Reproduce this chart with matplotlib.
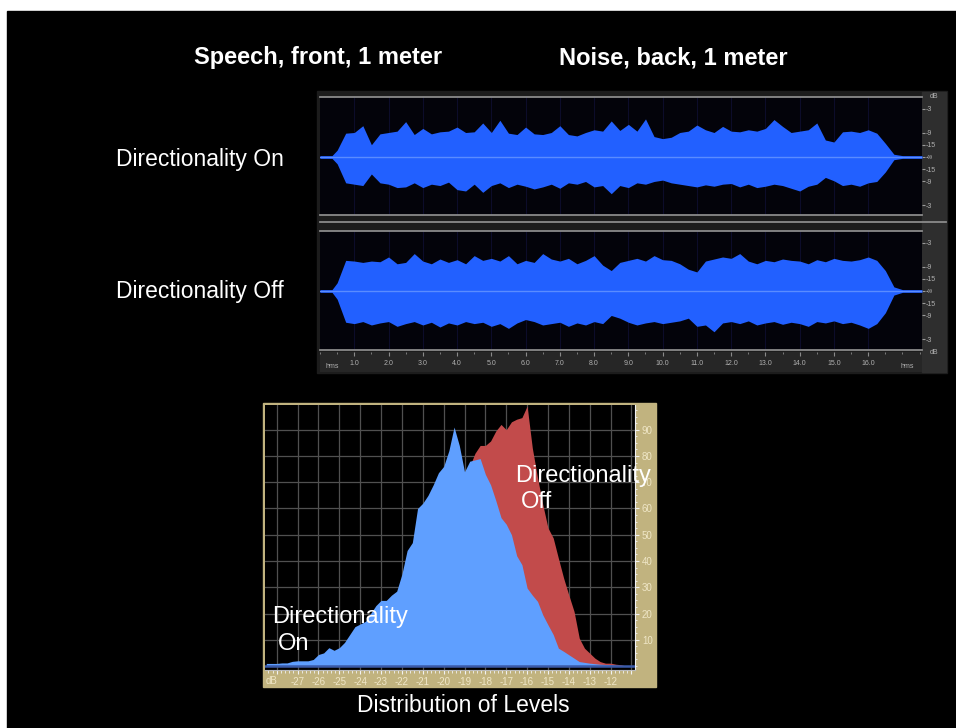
import numpy as np
import matplotlib
matplotlib.use("Agg")
import matplotlib.pyplot as plt
from matplotlib.patches import Rectangle
from matplotlib.ticker import MultipleLocator

plt.rcParams['font.family'] = ['Liberation Sans', 'DejaVu Sans']

W, H = 956, 728

# ---- waveform envelopes (amplitude, 0..1 of full scale), every 0.25 s from 0.5 s to 16.75 s
wave_t = [0.0, 0.35] + list(np.arange(0.5, 16.76, 0.25)) + [17.0, 17.57]
on_upper = [0.10, 0.35, 0.36, 0.46, 0.18, 0.34, 0.36, 0.38, 0.52, 0.33,
            0.42, 0.34, 0.37, 0.38, 0.44, 0.36, 0.37, 0.50, 0.36, 0.54,
            0.35, 0.33, 0.44, 0.34, 0.33, 0.36, 0.46, 0.33, 0.31, 0.36,
            0.40, 0.38, 0.53, 0.39, 0.48, 0.38, 0.56, 0.30, 0.27, 0.29,
            0.36, 0.38, 0.47, 0.40, 0.36, 0.45, 0.38, 0.37, 0.40, 0.38,
            0.42, 0.55, 0.45, 0.36, 0.38, 0.40, 0.50, 0.25, 0.22, 0.37,
            0.38, 0.36, 0.40, 0.35, 0.20, 0.04]
on_lower = [0.10, 0.38, 0.40, 0.42, 0.25, 0.38, 0.40, 0.45, 0.44, 0.38,
            0.45, 0.40, 0.42, 0.37, 0.48, 0.50, 0.40, 0.52, 0.42, 0.38,
            0.45, 0.40, 0.43, 0.47, 0.44, 0.40, 0.46, 0.38, 0.40, 0.36,
            0.44, 0.42, 0.54, 0.42, 0.45, 0.38, 0.40, 0.36, 0.34, 0.38,
            0.40, 0.42, 0.44, 0.41, 0.43, 0.40, 0.39, 0.44, 0.40, 0.45,
            0.43, 0.40, 0.42, 0.46, 0.50, 0.43, 0.40, 0.30, 0.35, 0.42,
            0.40, 0.43, 0.38, 0.36, 0.22, 0.04]
off_upper = [0.12, 0.45, 0.44, 0.42, 0.44, 0.43, 0.50, 0.40, 0.42, 0.55,
             0.44, 0.40, 0.47, 0.42, 0.46, 0.40, 0.52, 0.45, 0.48, 0.44,
             0.52, 0.40, 0.45, 0.42, 0.55, 0.47, 0.44, 0.48, 0.40, 0.45,
             0.52, 0.38, 0.30, 0.42, 0.45, 0.48, 0.44, 0.52, 0.46, 0.45,
             0.40, 0.32, 0.28, 0.44, 0.47, 0.50, 0.48, 0.55, 0.44, 0.40,
             0.45, 0.43, 0.47, 0.45, 0.44, 0.40, 0.46, 0.43, 0.48, 0.45,
             0.44, 0.46, 0.50, 0.45, 0.30, 0.06]
off_lower = [0.12, 0.46, 0.48, 0.45, 0.50, 0.47, 0.45, 0.52, 0.48, 0.45,
             0.50, 0.46, 0.53, 0.47, 0.50, 0.45, 0.48, 0.46, 0.52, 0.48,
             0.55, 0.47, 0.42, 0.45, 0.50, 0.48, 0.46, 0.52, 0.47, 0.50,
             0.45, 0.48, 0.36, 0.40, 0.46, 0.50, 0.47, 0.45, 0.48, 0.46,
             0.44, 0.40, 0.52, 0.50, 0.60, 0.47, 0.45, 0.48, 0.44, 0.50,
             0.47, 0.45, 0.49, 0.46, 0.48, 0.52, 0.45, 0.47, 0.44, 0.48,
             0.46, 0.50, 0.55, 0.48, 0.32, 0.06]
edge = [0.02, 0.02]

db_ticks = [0.708, 0.355, 0.178, 0.0, -0.178, -0.355, -0.708]
db_labels = ['-3', '-9', '-15', '-\u221e', '-15', '-9', '-3']
time_ticks = list(range(1, 17))
time_labels = ['%d.0' % s for s in time_ticks]

# ---- level histograms, every 0.25 dB
on_db = np.arange(-28.5, -11.49, 0.25)
on_counts = [1, 1, 1, 1.2, 1.2, 1.8, 2,
             2, 2, 2.5, 4.4, 5, 7, 6, 7, 9, 12, 15, 16,
             17, 20, 23, 25, 25, 27, 28.5, 35, 44, 47, 60, 62,
             65, 69, 73.6, 76, 82, 91, 84, 74, 78, 78.5, 79, 73,
             69, 63, 56.5, 54, 50, 42, 38.6, 29.7, 27, 24.6, 19.5, 15.7,
             12, 6.8, 5.6, 4.3, 3, 1.7, 1.4, 1.1, 0.9, 0.7, 0.6, 0.5,
             0.3, 0.2]
off_db = np.arange(-18.75, -11.24, 0.25)
off_counts = [76, 81, 84, 84, 85.7, 89.5, 92, 90, 93, 94, 94.6, 99,
              83, 71.7, 61.5, 52.6, 48.8, 41, 33.5, 27, 20.8, 10.6, 6.8, 4.9,
              3, 1.7, 1.1, 1.1, 0.7, 0.5, 0]
hist_db_ticks = list(range(-28, -10))
hist_db_labels = ['' if d in (-28, -11) else str(d) for d in hist_db_ticks]
count_ticks = [10, 20, 30, 40, 50, 60, 70, 80, 90]


def box(x0, y0, x1, y1):
    return [x0 / W, 1 - y1 / H, (x1 - x0) / W, (y1 - y0) / H]


def rect(x0, y0, x1, y1, color):
    fig.patches.append(Rectangle((x0 / W, 1 - y1 / H), (x1 - x0) / W, (y1 - y0) / H,
                                 transform=fig.transFigure, color=color, zorder=-5))


def ftext(x, y, s, **kw):
    fig.text(x / W, 1 - y / H, s, zorder=10, **kw)


fig = plt.figure(figsize=(9.56, 7.28), dpi=100, facecolor='white')
rect(7, 11, 956, 728, 'black')

# titles
ftext(318, 64, 'Speech, front, 1 meter', ha='center', va='baseline', fontsize=17,
      fontweight='bold', color='white')
ftext(673, 64, 'Noise, back, 1 meter', ha='center', va='baseline', fontsize=17,
      fontweight='bold', color='white')
ftext(200, 166, 'Directionality On', ha='center', va='baseline', fontsize=16.5, color='white')
ftext(200, 298, 'Directionality Off', ha='center', va='baseline', fontsize=16.5, color='white')

# waveform panel
rect(317, 91, 947, 373, '#1c1c1c')
rect(922, 92, 946, 372, '#2e2e2e')
T_MAX = 17.57

tracks = [((320, 97, 922, 215), (-0.853, 0.882), on_upper, on_lower),
          ((320, 231, 922, 350), (-0.868, 0.882), off_upper, off_lower)]
for pos, ylim, up, lo in tracks:
    ax = fig.add_axes(box(*pos))
    ax.set_facecolor('#03030a')
    up_all = np.array(edge + up + edge)
    lo_all = np.array(edge + lo + edge)
    for s in time_ticks:
        ax.axvline(s, color='#0c0c2a', lw=0.8, zorder=1)
    ax.fill_between(wave_t, up_all, -lo_all, color='#2260ff', lw=0, zorder=2)
    ax.axhline(0, color='#5a8cff', lw=1.0, zorder=3)
    ax.set_xlim(0, T_MAX)
    ax.set_ylim(*ylim)
    ax.set_xticks([])
    ax.yaxis.tick_right()
    ax.set_yticks(db_ticks)
    ax.set_yticklabels(db_labels)
    ax.tick_params(axis='y', colors='#9a9a9a', labelcolor='#b0b0b0', labelsize=5,
                   length=2, pad=1)
    for sp in ('left', 'right'):
        ax.spines[sp].set_visible(False)
    for sp in ('top', 'bottom'):
        ax.spines[sp].set_color('#8a8a8a')
        ax.spines[sp].set_linewidth(1.3)

fig.add_artist(plt.Line2D([320 / W, 946 / W], [1 - 222 / H, 1 - 222 / H],
                          color='#8a8a8a', lw=1.3))
ftext(934, 97, 'dB', ha='center', va='center', fontsize=5, color='#b0b0b0')
ftext(934, 352, 'dB', ha='center', va='center', fontsize=5, color='#b0b0b0')

# time ruler
axr = fig.add_axes(box(320, 352, 922, 372))
axr.set_facecolor('#262626')
axr.set_xlim(0, T_MAX)
axr.set_ylim(0, 1)
axr.set_yticks([])
axr.set_xticks(time_ticks)
axr.set_xticklabels(time_labels)
axr.xaxis.set_minor_locator(MultipleLocator(0.5))
axr.xaxis.set_ticks_position('top')
axr.tick_params(axis='x', which='both', top=True, bottom=False, labeltop=True,
                labelbottom=False, direction='in', colors='#8a8a8a',
                labelcolor='#b0b0b0', labelsize=5, pad=-11)
axr.tick_params(axis='x', which='major', length=3)
axr.tick_params(axis='x', which='minor', length=1.5)
for sp in axr.spines.values():
    sp.set_visible(False)
axr.text(0.02, 0.3, 'hms', transform=axr.transAxes, fontsize=5, color='#b0b0b0',
         ha='center', va='center')
axr.text(0.975, 0.3, 'hms', transform=axr.transAxes, fontsize=5, color='#b0b0b0',
         ha='center', va='center')

# histogram panel
rect(263, 403, 656, 687, '#c1b37f')
hax = fig.add_axes(box(265, 405, 635, 670))
hax.set_facecolor('black')
hax.fill_between(off_db, off_counts, 0, color='#c24b4b', lw=0, zorder=2)
hax.fill_between(on_db, on_counts, 0, color='#5f9fff', lw=0, zorder=3)
hax.axhline(0.2, color='#3a5aa8', lw=1.8, zorder=4)
hax.set_xlim(-28.56, -10.83)
hax.set_ylim(-1.5, 99.4)
hax.set_xticks(hist_db_ticks)
hax.set_xticklabels(hist_db_labels)
hax.set_yticks(count_ticks)
hax.xaxis.set_minor_locator(MultipleLocator(0.2))
hax.yaxis.set_minor_locator(MultipleLocator(2.5))
hax.yaxis.tick_right()
hax.grid(True, which='major', color='#505050', lw=0.9, zorder=1)
hax.set_axisbelow(True)
hax.tick_params(axis='x', which='both', colors='#f2f2f2', labelcolor='#efe6c6',
                labelsize=7, pad=2)
hax.tick_params(axis='x', which='major', length=3)
hax.tick_params(axis='x', which='minor', length=2)
hax.tick_params(axis='y', which='both', colors='#f2f2f2', labelcolor='#efe6c6',
                labelsize=7, pad=2)
hax.tick_params(axis='y', which='major', length=3)
hax.tick_params(axis='y', which='minor', length=1.5)
hax.spines['left'].set_visible(False)
hax.spines['top'].set_visible(False)
hax.spines['right'].set_color('#f2f2f2')
hax.spines['bottom'].set_color('#bdbdbd')
ftext(272, 681, 'dB', ha='center', va='center', fontsize=7, color='#efe6c6')

ftext(515, 482, 'Directionality', ha='left', va='baseline', fontsize=17, color='white')
ftext(521, 508, 'Off', ha='left', va='baseline', fontsize=17, color='white')
ftext(272, 623, 'Directionality', ha='left', va='baseline', fontsize=17, color='white')
ftext(278, 650, 'On', ha='left', va='baseline', fontsize=17, color='white')

ftext(463, 712, 'Distribution of Levels', ha='center', va='baseline', fontsize=16.5,
      color='white')

fig.savefig('out.png', dpi=100, facecolor=fig.get_facecolor())
